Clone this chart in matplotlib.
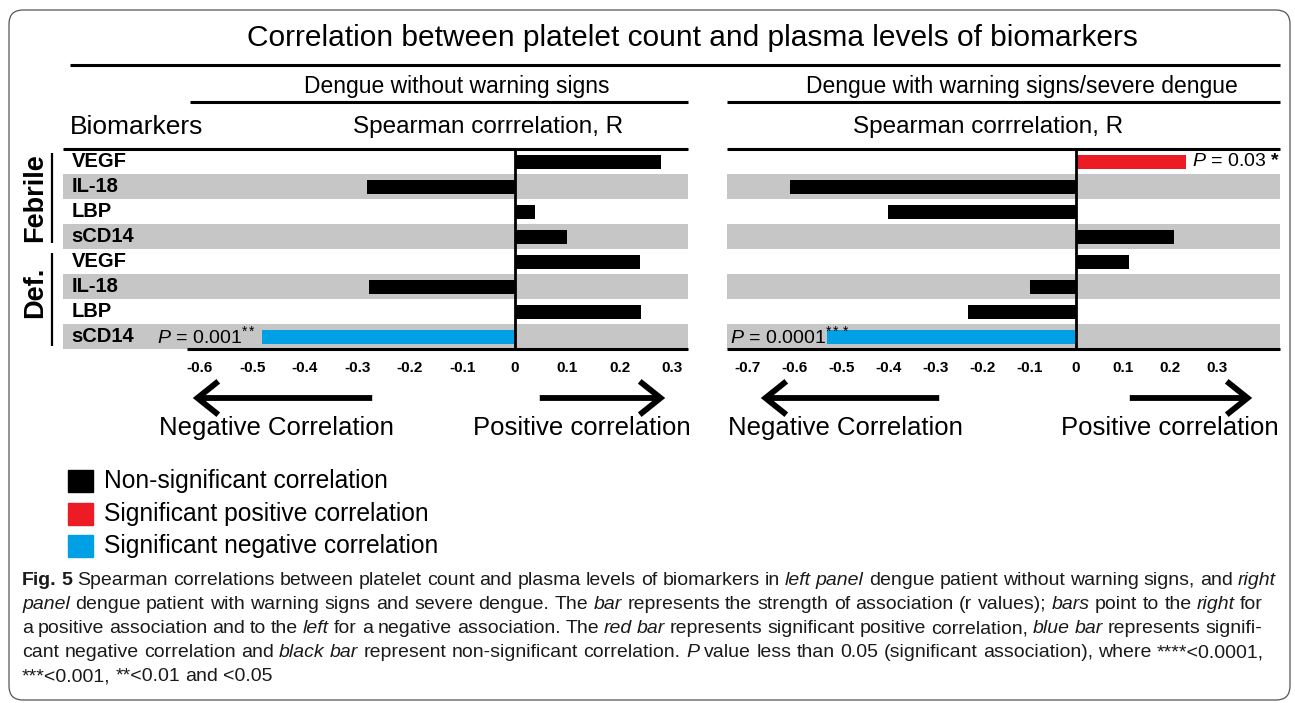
import matplotlib
matplotlib.use('Agg')
import matplotlib.pyplot as plt
from matplotlib.patches import FancyBboxPatch, FancyArrowPatch, Rectangle
from matplotlib.lines import Line2D
from matplotlib.transforms import IdentityTransform

plt.rcParams['font.family'] = ['Liberation Sans', 'DejaVu Sans']
plt.rcParams['mathtext.fontset'] = 'custom'
plt.rcParams['mathtext.rm'] = 'Liberation Sans'
plt.rcParams['mathtext.it'] = 'Liberation Sans:italic'
plt.rcParams['mathtext.bf'] = 'Liberation Sans:bold'

# data
biomarkers = ['VEGF', 'IL-18', 'LBP', 'sCD14', 'VEGF', 'IL-18', 'LBP', 'sCD14']
groups = ['Febrile', 'Def.']
r_without = [0.278, -0.282, 0.038, 0.100, 0.238, -0.278, 0.240, -0.482]
r_with = [0.235, -0.610, -0.400, 0.210, 0.113, -0.097, -0.230, -0.530]
# 0 = non-significant, 1 = significant positive, -1 = significant negative
sig_without = [0, 0, 0, 0, 0, 0, 0, -1]
sig_with = [1, 0, 0, 0, 0, 0, 0, -1]
ticks_without = [-0.6, -0.5, -0.4, -0.3, -0.2, -0.1, 0, 0.1, 0.2, 0.3]
ticks_with = [-0.7, -0.6, -0.5, -0.4, -0.3, -0.2, -0.1, 0, 0.1, 0.2, 0.3]
panel_titles = ['Dengue without warning signs', 'Dengue with warning signs/severe dengue']
legend_labels = ['Non-significant correlation', 'Significant positive correlation',
                 'Significant negative correlation']
colors = {0: '#000000', 1: '#ed1c24', -1: '#00a1e4'}

W, H = 1295, 703
fig = plt.figure(figsize=(W / 100, H / 100), dpi=100)


def fx(x):
    return x / W


def fy(y):
    return 1 - y / H


def hline(x0, x1, y, lw=2.2):
    fig.add_artist(Line2D([fx(x0), fx(x1)], [fy(y), fy(y)], color='k', lw=lw,
                          solid_capstyle='butt'))


def vline(x, y0, y1, lw=1.6):
    fig.add_artist(Line2D([fx(x), fx(x)], [fy(y0), fy(y1)], color='k', lw=lw,
                          solid_capstyle='butt'))


# frame
fig.add_artist(FancyBboxPatch((9, 3), 1281, 690, boxstyle='round,pad=0,rounding_size=14',
                              transform=IdentityTransform(), fc='none', ec='#555555', lw=0.9))

fig.text(fx(692), fy(38), 'Correlation between platelet count and plasma levels of biomarkers',
         ha='center', va='center', fontsize=21.5)
hline(70, 1280, 65)

fig.text(fx(457), fy(87), panel_titles[0], ha='center', va='center', fontsize=16.5)
fig.text(fx(1022), fy(87), panel_titles[1], ha='center', va='center', fontsize=16.5)
hline(190, 688, 102)
hline(727, 1280, 102)

fig.text(fx(70), fy(127), 'Biomarkers', ha='left', va='center', fontsize=19)
fig.text(fx(488), fy(127), 'Spearman corrrelation, R', ha='center', va='center', fontsize=17.5)
fig.text(fx(988), fy(127), 'Spearman corrrelation, R', ha='center', va='center', fontsize=17.5)


def draw_panel(ax, vals, sig, ticks, xlim, bottom_from):
    for i in range(len(vals)):
        if i % 2 == 1:
            ax.axhspan(i - 0.5, i + 0.5, color='#c6c6c6', lw=0)
    ax.barh(range(len(vals)), vals, height=0.56, color=[colors[s] for s in sig])
    ax.axvline(0, color='k', lw=2)
    ax.set_xlim(xlim)
    ax.set_ylim(len(vals) - 0.5, -0.5)
    ax.set_xticks(ticks)
    ax.set_xticklabels([f'{t:g}' for t in ticks], fontweight='bold', fontsize=11)
    ax.tick_params(axis='x', length=0, pad=9)
    ax.set_yticks([])
    for s in ax.spines.values():
        s.set_visible(False)
    ax.plot([0, 1], [1, 1], color='k', lw=2.2, transform=ax.transAxes, clip_on=False,
            solid_capstyle='butt')
    ax.plot([bottom_from, 1], [0, 0], color='k', lw=2.2, transform=ax.transAxes,
            clip_on=False, solid_capstyle='butt')


axL = fig.add_axes([fx(63), fy(349), (688 - 63) / W, 200 / H])
axR = fig.add_axes([fx(727), fy(349), (1280 - 727) / W, 200 / H])
draw_panel(axL, r_without, sig_without, ticks_without, (-0.861, 0.33), 0.198)
draw_panel(axR, r_with, sig_with, ticks_with, (-0.744, 0.435), 0.0)

for i, name in enumerate(biomarkers):
    axL.text(0.014, i, name, transform=axL.get_yaxis_transform(), ha='left', va='center',
             fontsize=14.5, fontweight='bold')

axL.text(r_without[7] - 0.012, 7, r'$\mathit{P}$ = 0.001$^{**}$', ha='right', va='center',
         fontsize=14)
axR.text(-0.738, 7, r'$\mathit{P}$ = 0.0001$^{***}$', ha='left', va='center', fontsize=14)
axR.text(r_with[0] + 0.012, 0, r'$\mathit{P}$ = 0.03 $\mathbf{*}$', ha='left', va='center',
         fontsize=14)

# group labels
fig.text(fx(35), fy(198), groups[0], rotation=90, ha='center', va='center', fontsize=19.5,
         fontweight='bold')
fig.text(fx(35), fy(292), groups[1], rotation=90, ha='center', va='center', fontsize=19.5,
         fontweight='bold')
vline(52, 153, 243)
vline(52, 253, 346)

# direction arrows
for x0, x1 in [(375, 190), (537, 668), (942, 758), (1127, 1255)]:
    fig.add_artist(FancyArrowPatch((fx(x0), fy(398)), (fx(x1), fy(398)),
                                   transform=fig.transFigure,
                                   arrowstyle='->,head_length=0.75,head_width=0.6',
                                   mutation_scale=20, lw=4.2, color='k',
                                   capstyle='butt', joinstyle='miter'))
for xc, txt in [(276, 'Negative Correlation'), (582, 'Positive correlation'),
                (845, 'Negative Correlation'), (1170, 'Positive correlation')]:
    fig.text(fx(xc), fy(428), txt, ha='center', va='center', fontsize=18.5)

# legend
for k, (lab, s) in enumerate(zip(legend_labels, [0, 1, -1])):
    yc = 481 + 32.5 * k
    fig.add_artist(Rectangle((fx(68), fy(yc + 11)), 25 / W, 22 / H, color=colors[s],
                             transform=fig.transFigure))
    fig.text(fx(104), fy(yc), lab, ha='left', va='center', fontsize=17.7)

# caption
cap_fonts = ['Liberation Sans Narrow', 'Liberation Sans']
caption = [
    [('Fig. 5', 'b'), ('Spearman correlations between platelet count and plasma levels of biomarkers in', 'n'),
     ('left panel', 'i'), ('dengue patient without warning signs, and', 'n'), ('right', 'i')],
    [('panel', 'i'), ('dengue patient with warning signs and severe dengue. The', 'n'), ('bar', 'i'),
     ('represents the strength of association (r values);', 'n'), ('bars', 'i'), ('point to the', 'n'),
     ('right', 'i'), ('for', 'n')],
    [('a positive association and to the', 'n'), ('left', 'i'), ('for a negative association. The', 'n'),
     ('red bar', 'i'), ('represents significant positive correlation,', 'n'), ('blue bar', 'i'),
     ('represents signifi-', 'n')],
    [('cant negative correlation and', 'n'), ('black bar', 'i'),
     ('represent non-significant correlation.', 'n'), ('P', 'i'),
     ('value less than 0.05 (significant association), where ****<0.0001,', 'n')],
    [('***<0.001, **<0.01 and <0.05', 'n')],
]
line_ends = [1276, 1263, 1262, 1264, None]
renderer = fig.canvas.get_renderer()
cap_size = 14
for li, segs in enumerate(caption):
    y = 585 + 24 * li
    words = [(w, st) for txt, st in segs for w in txt.split()]
    arts = []
    for w, st in words:
        arts.append(fig.text(0, fy(y), w, fontsize=cap_size, family=cap_fonts, va='baseline',
                             fontstyle='italic' if st == 'i' else 'normal',
                             fontweight='bold' if st == 'b' else 'normal', color='#1a1a1a'))
    widths = [a.get_window_extent(renderer).width for a in arts]
    if line_ends[li] is not None:
        gap = (line_ends[li] - 22 - sum(widths)) / (len(arts) - 1)
    else:
        gap = 0.25 * cap_size * 100 / 72
    x = 22
    for a, w in zip(arts, widths):
        a.set_x(fx(x))
        x += w + gap

fig.savefig('out.png', dpi=100)
